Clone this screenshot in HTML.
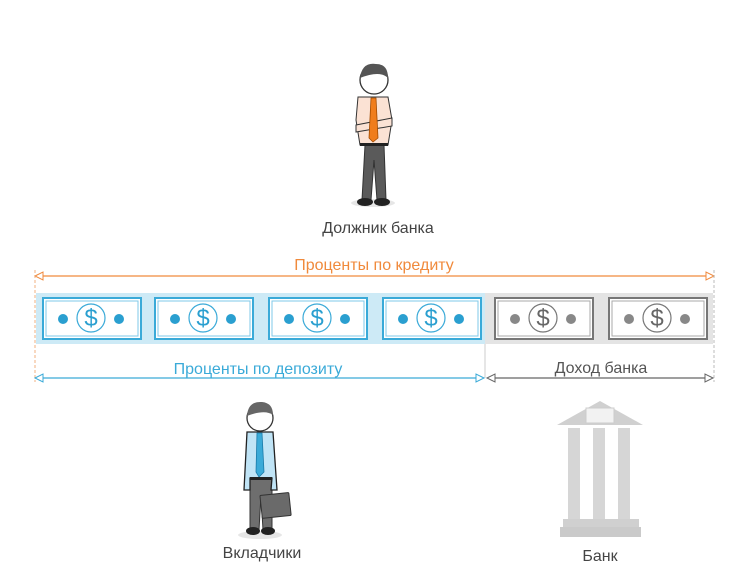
<!DOCTYPE html>
<html><head><meta charset="utf-8"><style>
html,body{margin:0;padding:0;background:#fff;}
svg{display:block}
text{font-family:"Liberation Sans",sans-serif;font-size:16px;}
</style></head><body>
<svg width="738" height="585" viewBox="0 0 738 585" xmlns="http://www.w3.org/2000/svg">
<defs>
<g id="billB">
<rect x="0" y="0" width="98" height="41" fill="#fff" stroke="#3aaad8" stroke-width="2"/>
<rect x="3" y="3" width="92" height="35" fill="#fff" stroke="#7fc8e8" stroke-width="1"/>
<circle cx="48" cy="20" r="14" fill="#fff" stroke="#3aaad8" stroke-width="1.2"/>
<text x="48" y="28" text-anchor="middle" fill="#2a9fd0" style="font-size:24px">$</text>
<circle cx="20" cy="21" r="5" fill="#2a9fd0"/>
<circle cx="76" cy="21" r="5" fill="#2a9fd0"/>
</g>
<g id="billG">
<rect x="0" y="0" width="98" height="41" fill="#fff" stroke="#777" stroke-width="2"/>
<rect x="3" y="3" width="92" height="35" fill="#fff" stroke="#aaa" stroke-width="1"/>
<circle cx="48" cy="20" r="14" fill="#fff" stroke="#777" stroke-width="1.2"/>
<text x="48" y="28" text-anchor="middle" fill="#666" style="font-size:24px">$</text>
<circle cx="20" cy="21" r="5" fill="#888"/>
<circle cx="76" cy="21" r="5" fill="#888"/>
</g>
</defs>

<!-- top person -->
<ellipse cx="373" cy="203" rx="22" ry="4" fill="#e6e6e6"/>
<path d="M365 145 L384 145 L386 200 L377 200 L374 160 L371 200 L362 200 Z" fill="#5a5a5a" stroke="#333" stroke-width="1"/>
<ellipse cx="365" cy="202" rx="8" ry="4" fill="#222"/>
<ellipse cx="382" cy="202" rx="8" ry="4" fill="#222"/>
<path d="M358 97 L388 97 L392 120 L388 145 L360 145 L356 120 Z" fill="#fbe2d4" stroke="#333" stroke-width="1"/>
<path d="M356 125 L392 118 L392 126 L356 132 Z" fill="#fbe2d4" stroke="#333" stroke-width="1"/>
<path d="M371 98 L376 98 L378 138 L373 142 L369 138 Z" fill="#f07d1c" stroke="#a04a00" stroke-width="0.8"/>
<rect x="360" y="143" width="28" height="3" fill="#222"/>
<circle cx="374" cy="80" r="14" fill="#fff" stroke="#333" stroke-width="1.3"/>
<path d="M360 78 Q362 62 376 64 Q388 64 388 78 Q380 70 360 78 Z" fill="#555"/>

<text x="378" y="233" text-anchor="middle" fill="#444">Должник банка</text>
<text x="374" y="270" text-anchor="middle" fill="#f08a3c">Проценты по кредиту</text>

<!-- orange arrow -->
<line x1="38" y1="276" x2="711" y2="276" stroke="#f08a3c" stroke-width="1.3"/>
<path d="M35 276 L43 272 L43 280 Z" fill="#fff" stroke="#f08a3c"/>
<path d="M714 276 L706 272 L706 280 Z" fill="#fff" stroke="#f08a3c"/>
<line x1="35" y1="270" x2="35" y2="382" stroke="#f0b080" stroke-dasharray="3,2"/>
<line x1="714" y1="270" x2="714" y2="382" stroke="#bbb" stroke-dasharray="3,2"/>

<!-- strip -->
<rect x="36" y="293" width="449" height="51" fill="#cdeaf6"/>
<rect x="485" y="293" width="228" height="51" fill="#e4e4e4"/>
<use href="#billB" x="43" y="298"/>
<use href="#billB" x="155" y="298"/>
<use href="#billB" x="269" y="298"/>
<use href="#billB" x="383" y="298"/>
<use href="#billG" x="495" y="298"/>
<use href="#billG" x="609" y="298"/>
<line x1="485" y1="344" x2="485" y2="378" stroke="#ccc"/>

<text x="258" y="374" text-anchor="middle" fill="#3aaad8">Проценты по депозиту</text>
<text x="601" y="373" text-anchor="middle" fill="#555">Доход банка</text>
<line x1="38" y1="378" x2="481" y2="378" stroke="#3aaad8" stroke-width="1.3"/>
<path d="M35 378 L43 374 L43 382 Z" fill="#fff" stroke="#3aaad8"/>
<path d="M484 378 L476 374 L476 382 Z" fill="#fff" stroke="#3aaad8"/>
<line x1="490" y1="378" x2="710" y2="378" stroke="#666" stroke-width="1.3"/>
<path d="M487 378 L495 374 L495 382 Z" fill="#fff" stroke="#666"/>
<path d="M713 378 L705 374 L705 382 Z" fill="#fff" stroke="#666"/>

<!-- depositor -->
<ellipse cx="260" cy="535" rx="22" ry="4" fill="#e6e6e6"/>
<path d="M250 478 L272 478 L272 530 L263 530 L261 495 L259 530 L250 530 Z" fill="#6e6e6e" stroke="#333" stroke-width="1"/>
<ellipse cx="253" cy="531" rx="7" ry="4" fill="#222"/>
<ellipse cx="268" cy="531" rx="7" ry="4" fill="#222"/>
<path d="M247 432 L273 432 L277 490 L271 490 L272 478 L250 478 L250 490 L244 490 Z" fill="#c0e4f6" stroke="#222" stroke-width="1.3"/>
<path d="M257 433 L262 433 L264 472 L259 477 L256 472 Z" fill="#3aaad8" stroke="#1a7aa8" stroke-width="0.8"/>
<rect x="250" y="477" width="22" height="3" fill="#222"/>
<rect x="261" y="494" width="29" height="23" fill="#6a6a6a" stroke="#333" rx="1" transform="rotate(-6 275 505)"/>
<circle cx="260" cy="418" r="13" fill="#fff" stroke="#333" stroke-width="1.3"/>
<path d="M247 416 Q248 401 262 402 Q273 403 273 415 Q265 409 247 416 Z" fill="#666"/>

<!-- bank -->
<path d="M557 425 L600 401 L643 425 Z" fill="#d0d0d0"/>
<rect x="586" y="408" width="28" height="15" fill="#f2f2f2" stroke="#ccc"/>
<rect x="568" y="428" width="12" height="93" fill="#d6d6d6"/>
<rect x="593" y="428" width="12" height="93" fill="#d6d6d6"/>
<rect x="618" y="428" width="12" height="93" fill="#d6d6d6"/>
<rect x="563" y="519" width="76" height="8" fill="#d0d0d0"/>
<rect x="560" y="527" width="81" height="10" fill="#cacaca"/>

<text x="262" y="558" text-anchor="middle" fill="#444">Вкладчики</text>
<text x="600" y="561" text-anchor="middle" fill="#444">Банк</text>
</svg>
</body></html>
